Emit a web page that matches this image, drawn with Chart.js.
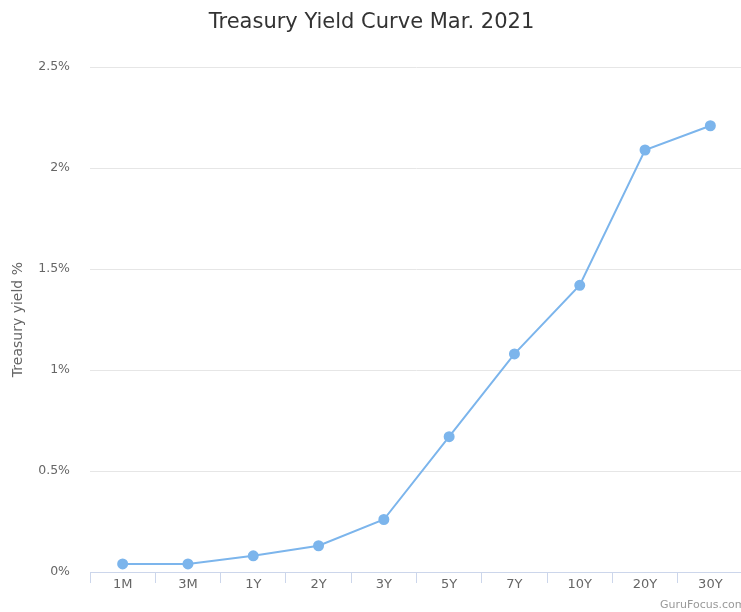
<!DOCTYPE html>
<html>
<head>
<meta charset="utf-8">
<script src="https://cdn.jsdelivr.net/npm/chart.js@4"></script>
<style>
  html, body { margin: 0; padding: 0; background: #fff; overflow: hidden; }
  #wrap { width: 743px; height: 612px; }
</style>
</head>
<body>
<div id="wrap"><canvas id="chart"></canvas></div>
<script>
const maturities = ['1M', '3M', '1Y', '2Y', '3Y', '5Y', '7Y', '10Y', '20Y', '30Y'];
const yields = [0.04, 0.04, 0.08, 0.13, 0.26, 0.67, 1.08, 1.42, 2.09, 2.21];
const yTicks = [0, 0.5, 1, 1.5, 2, 2.5];

const fontFamily = '"DejaVu Sans", Verdana, sans-serif';

// credits text in the bottom right corner
const credits = {
  id: 'credits',
  afterDraw(chart) {
    const ctx = chart.ctx;
    ctx.save();
    ctx.font = '11px ' + fontFamily;
    ctx.fillStyle = '#999999';
    ctx.textAlign = 'left';
    ctx.textBaseline = 'middle';
    ctx.fillText('GuruFocus.com', 660, 605);
    ctx.restore();
  }
};

const ctx = document.getElementById('chart').getContext('2d');
new Chart(ctx, {
  type: 'line',
  data: {
    labels: maturities,
    datasets: [{
      label: 'Treasury yield',
      data: yields,
      borderColor: '#7cb5ec',
      backgroundColor: '#7cb5ec',
      borderWidth: 2,
      pointRadius: 4.5,
      pointHoverRadius: 5,
      tension: 0
    }]
  },
  options: {
    responsive: true,
    maintainAspectRatio: false,
    animation: false,
    layout: { autoPadding: false, padding: 0 },
    plugins: {
      legend: { display: false },
      tooltip: { enabled: false },
      title: {
        display: true,
        text: 'Treasury Yield Curve Mar. 2021',
        color: '#333333',
        font: { family: fontFamily, size: 21, weight: 'normal', lineHeight: 1.2 },
        padding: { top: 10, bottom: 32 }
      }
    },
    scales: {
      x: {
        offset: true,
        grid: {
          offset: true,
          drawOnChartArea: false,
          drawTicks: true,
          tickLength: 11,
          color: '#ccd6eb',
          lineWidth: 1
        },
        border: { display: true, color: '#ccd6eb', width: 1 },
        ticks: {
          color: '#666666',
          padding: -6,
          maxRotation: 0,
          font: { family: fontFamily, size: 13 }
        },
        afterFit(scale) { scale.height = 40; }
      },
      y: {
        min: 0,
        max: 2.5,
        afterBuildTicks(scale) {
          scale.ticks = yTicks.map(v => ({ value: v }));
        },
        grid: { color: '#e6e6e6', lineWidth: 1, drawTicks: false },
        border: { display: false },
        ticks: {
          color: '#666666',
          padding: 20,
          font: { family: fontFamily, size: 12.5 },
          callback: v => v + '%'
        },
        title: {
          display: true,
          text: 'Treasury yield %',
          color: '#666666',
          font: { family: fontFamily, size: 14 },
          padding: { top: 10, bottom: 0 }
        },
        afterFit(scale) { scale.width = 90; }
      }
    }
  },
  plugins: [credits]
});
</script>
</body>
</html>
